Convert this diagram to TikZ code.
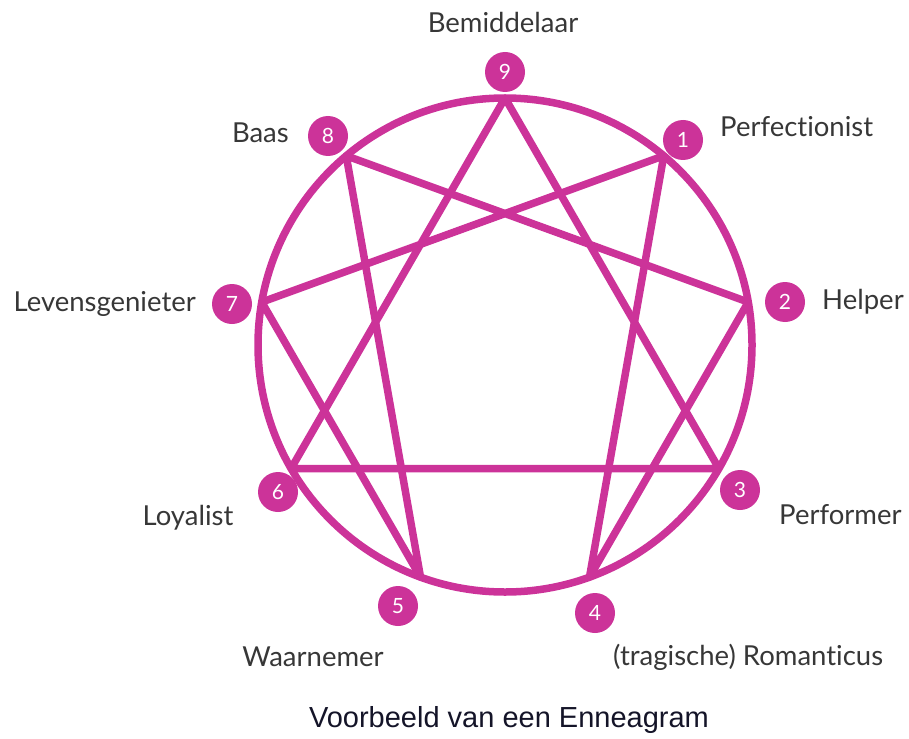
\documentclass[tikz,border=0pt]{standalone}
\usepackage{fontspec}
\setmainfont{Lato}[Ligatures=NoCommon]
\newfontfamily\capfont{Liberation Sans}
\usetikzlibrary{calc}
\definecolor{enn}{RGB}{204,51,153}
\definecolor{lbl}{RGB}{55,55,55}
\definecolor{capc}{RGB}{20,20,40}
\begin{document}
\begin{tikzpicture}[x=1pt,y=-1pt,
  eline/.style={draw=enn,line width=7.5pt,line join=round},
  badge/.style={circle,fill=enn,minimum size=40pt,inner sep=0pt,text=white,font=\fontsize{21}{24}\selectfont},
  lab/.style={text=lbl,font=\fontsize{27.5}{32}\selectfont,inner sep=0pt},
]
\useasboundingbox (0,0) rectangle (909,738);
\coordinate (c) at (505,345);
\foreach \k in {1,...,9} \coordinate (p\k) at ($(c)+(\k*40-90:247)$);
\draw[eline] (c) circle (247);
\draw[eline] (p9) -- (p3) -- (p6) -- cycle;
\draw[eline] (p1) -- (p4) -- (p2) -- (p8) -- (p5) -- (p7) -- cycle;
% badges
\node[badge] (b9) at (505,72) {9};
\node[badge] (b8) at (328,136) {8};
\node[badge] (b1) at (683,140) {1};
\node[badge] (b7) at (232,304) {7};
\node[badge] (b2) at (785,302) {2};
\node[badge] (b6) at (278,492) {6};
\node[badge] (b3) at (740,490) {3};
\node[badge] (b5) at (398,606) {5};
\node[badge] (b4) at (595,613) {4};
% labels
\node[lab] (l9) at (503,22) {Bemiddelaar};
\node[lab,anchor=east] (l8) at (289,133) {Baas};
\node[lab,anchor=west] (l1) at (720,127) {Perfectionist};
\node[lab,anchor=east] (l7) at (196,304) {Levensgenieter};
\node[lab,anchor=west] (l2) at (822,302) {Helper};
\node[lab] (l6) at (188,518) {Loyalist};
\node[lab,anchor=west] (l3) at (779,515) {Performer};
\node[lab] (l5) at (313,657) {Waarnemer};
\node[lab,anchor=west] (l4) at (613,657) {(tragische) Romanticus};
\node[text=capc,font=\capfont\fontsize{29}{33}\selectfont,inner sep=0pt] (cap) at (509,720) {Voorbeeld van een Enneagram};
\end{tikzpicture}
\end{document}
